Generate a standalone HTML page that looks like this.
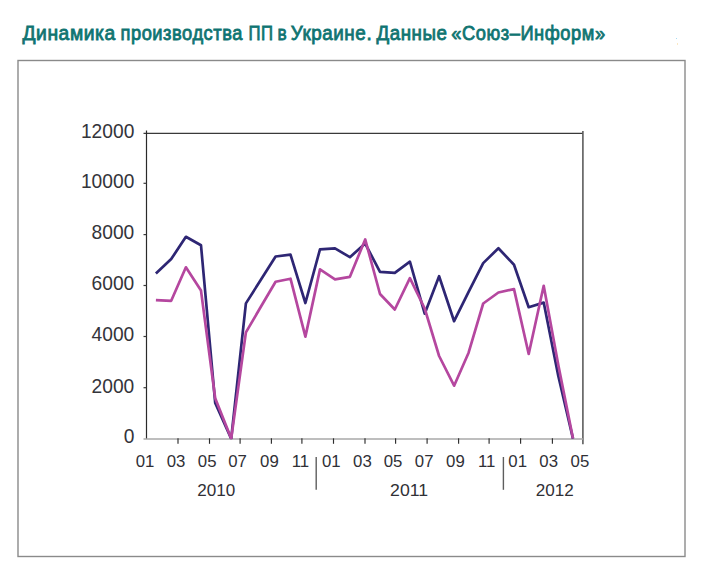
<!DOCTYPE html>
<html><head><meta charset="utf-8"><title>Динамика производства ПП в Украине</title>
<style>
html,body{margin:0;padding:0;background:#fff;}
body{width:701px;height:580px;overflow:hidden;}
svg{display:block;}
text{font-family:"Liberation Sans",Arial,sans-serif;}
</style></head><body>
<svg width="701" height="580" viewBox="0 0 701 580">
<g font-size="19.6" fill="#0f7471" stroke="#0f7471" stroke-width="0.8" letter-spacing="0.6"><text x="22.40" y="39.9" textLength="93.50" lengthAdjust="spacingAndGlyphs">Динамика</text><text x="120.50" y="39.9" textLength="122.50" lengthAdjust="spacingAndGlyphs">производства</text><text x="248.40" y="39.9" textLength="25.00" lengthAdjust="spacingAndGlyphs">ПП</text><text x="277.40" y="39.9" textLength="9.70" lengthAdjust="spacingAndGlyphs">в</text><text x="290.70" y="39.9" textLength="81.50" lengthAdjust="spacingAndGlyphs">Украине.</text><text x="376.40" y="39.9" textLength="71.10" lengthAdjust="spacingAndGlyphs">Данные</text><text x="451.20" y="39.9" textLength="154.50" lengthAdjust="spacingAndGlyphs">«Союз–Информ»</text></g>
<rect x="18" y="60.5" width="667" height="496" fill="none" stroke="#8a8a8a" stroke-width="1.4"/>
<line x1="143.5" y1="133.3" x2="583" y2="133.3" stroke="#3a3a3a" stroke-width="1.2"/>
<line x1="146.5" y1="130.5" x2="146.5" y2="439" stroke="#2a2a2a" stroke-width="1.2"/>
<line x1="582.9" y1="131" x2="582.9" y2="444.3" stroke="#5c5c5c" stroke-width="1.6"/>
<line x1="143.5" y1="183.3" x2="146.5" y2="183.3" stroke="#3a3a3a" stroke-width="1.2"/>
<line x1="143.5" y1="234.6" x2="146.5" y2="234.6" stroke="#3a3a3a" stroke-width="1.2"/>
<line x1="143.5" y1="285.5" x2="146.5" y2="285.5" stroke="#3a3a3a" stroke-width="1.2"/>
<line x1="143.5" y1="336.5" x2="146.5" y2="336.5" stroke="#3a3a3a" stroke-width="1.2"/>
<line x1="143.5" y1="387.7" x2="146.5" y2="387.7" stroke="#3a3a3a" stroke-width="1.2"/>
<line x1="143.5" y1="438.9" x2="583" y2="438.9" stroke="#a8a8a8" stroke-width="1.5"/>
<line x1="178.0" y1="438.3" x2="178.0" y2="443.8" stroke="#2e2e2e" stroke-width="1.15"/>
<line x1="209.5" y1="438.3" x2="209.5" y2="443.8" stroke="#2e2e2e" stroke-width="1.15"/>
<line x1="240.1" y1="438.3" x2="240.1" y2="443.8" stroke="#2e2e2e" stroke-width="1.15"/>
<line x1="271.4" y1="438.3" x2="271.4" y2="443.8" stroke="#2e2e2e" stroke-width="1.15"/>
<line x1="301.9" y1="438.3" x2="301.9" y2="443.8" stroke="#2e2e2e" stroke-width="1.15"/>
<line x1="333.5" y1="438.3" x2="333.5" y2="443.8" stroke="#2e2e2e" stroke-width="1.15"/>
<line x1="365.0" y1="438.3" x2="365.0" y2="443.8" stroke="#2e2e2e" stroke-width="1.15"/>
<line x1="395.6" y1="438.3" x2="395.6" y2="443.8" stroke="#2e2e2e" stroke-width="1.15"/>
<line x1="427.1" y1="438.3" x2="427.1" y2="443.8" stroke="#2e2e2e" stroke-width="1.15"/>
<line x1="458.6" y1="438.3" x2="458.6" y2="443.8" stroke="#2e2e2e" stroke-width="1.15"/>
<line x1="489.1" y1="438.3" x2="489.1" y2="443.8" stroke="#2e2e2e" stroke-width="1.15"/>
<line x1="520.6" y1="438.3" x2="520.6" y2="443.8" stroke="#2e2e2e" stroke-width="1.15"/>
<line x1="552.4" y1="438.3" x2="552.4" y2="443.8" stroke="#2e2e2e" stroke-width="1.15"/>
<text transform="translate(134.3,138.0) scale(1,1.08)" font-size="19.2" fill="#34343a" text-anchor="end">12000</text>
<text transform="translate(134.3,188.1) scale(1,1.08)" font-size="19.2" fill="#34343a" text-anchor="end">10000</text>
<text transform="translate(134.3,239.4) scale(1,1.08)" font-size="19.2" fill="#34343a" text-anchor="end">8000</text>
<text transform="translate(134.3,290.3) scale(1,1.08)" font-size="19.2" fill="#34343a" text-anchor="end">6000</text>
<text transform="translate(134.3,341.3) scale(1,1.08)" font-size="19.2" fill="#34343a" text-anchor="end">4000</text>
<text transform="translate(134.3,392.5) scale(1,1.08)" font-size="19.2" fill="#34343a" text-anchor="end">2000</text>
<text transform="translate(134.3,442.8) scale(1,1.08)" font-size="19.2" fill="#34343a" text-anchor="end">0</text>
<text x="145.0" y="466.6" font-size="16.8" fill="#303036" text-anchor="middle">01</text>
<text x="176.0" y="466.6" font-size="16.8" fill="#303036" text-anchor="middle">03</text>
<text x="207.2" y="466.6" font-size="16.8" fill="#303036" text-anchor="middle">05</text>
<text x="237.6" y="466.6" font-size="16.8" fill="#303036" text-anchor="middle">07</text>
<text x="269.4" y="466.6" font-size="16.8" fill="#303036" text-anchor="middle">09</text>
<text x="300.5" y="466.6" font-size="16.8" fill="#303036" text-anchor="middle">11</text>
<text x="331.3" y="466.6" font-size="16.8" fill="#303036" text-anchor="middle">01</text>
<text x="362.4" y="466.6" font-size="16.8" fill="#303036" text-anchor="middle">03</text>
<text x="393.1" y="466.6" font-size="16.8" fill="#303036" text-anchor="middle">05</text>
<text x="424.2" y="466.6" font-size="16.8" fill="#303036" text-anchor="middle">07</text>
<text x="455.4" y="466.6" font-size="16.8" fill="#303036" text-anchor="middle">09</text>
<text x="486.7" y="466.6" font-size="16.8" fill="#303036" text-anchor="middle">11</text>
<text x="517.7" y="466.6" font-size="16.8" fill="#303036" text-anchor="middle">01</text>
<text x="548.7" y="466.6" font-size="16.8" fill="#303036" text-anchor="middle">03</text>
<text x="579.9" y="466.6" font-size="16.8" fill="#303036" text-anchor="middle">05</text>
<text x="216.2" y="495.7" font-size="16.5" textLength="38" lengthAdjust="spacingAndGlyphs" fill="#303036" text-anchor="middle">2010</text>
<text x="409.1" y="495.7" font-size="16.5" textLength="38" lengthAdjust="spacingAndGlyphs" fill="#303036" text-anchor="middle">2011</text>
<text x="554.8" y="495.7" font-size="16.5" textLength="38" lengthAdjust="spacingAndGlyphs" fill="#303036" text-anchor="middle">2012</text>
<line x1="316.2" y1="457" x2="316.2" y2="489.8" stroke="#5e5e5e" stroke-width="1.4"/>
<line x1="503.4" y1="457" x2="503.4" y2="489.8" stroke="#5e5e5e" stroke-width="1.4"/>
<defs><clipPath id="pc"><rect x="140" y="120" width="450" height="319.2"/></clipPath></defs><g clip-path="url(#pc)"><polyline points="155.9,273.5 171.2,259.1 185.9,236.8 201.0,245.3 215.2,403.0 231.2,438.6 245.9,303.4 260.7,280.0 275.6,256.5 290.5,254.7 305.4,303.0 320.0,249.3 335.0,248.3 349.9,257.2 365.2,243.6 380.0,271.9 394.8,272.9 409.9,261.7 424.7,313.7 439.1,276.2 454.1,321.2 468.6,291.9 483.2,263.1 498.4,248.3 514.0,264.7 528.7,307.2 543.7,302.6 558.3,376.0 573.0,438.6" fill="none" stroke="#2e2674" stroke-width="2.7" stroke-linejoin="round"/>
<polyline points="155.9,300.1 171.2,300.8 185.9,267.3 201.0,290.6 215.2,398.2 231.2,438.6 245.9,332.4 260.7,307.0 275.6,281.7 290.5,278.7 305.4,336.6 320.0,269.4 335.0,279.3 349.9,276.8 365.2,239.4 380.0,294.0 394.8,309.5 409.9,278.2 424.7,308.5 439.1,356.0 454.1,385.7 468.6,352.7 483.2,303.5 498.4,292.5 514.0,289.1 528.7,354.0 543.7,285.8 558.3,365.0 573.0,438.6" fill="none" stroke="#b5479f" stroke-width="2.7" stroke-linejoin="round"/>
</g><rect x="676" y="38" width="1" height="1" fill="#a8dcf4"/><rect x="677" y="43" width="1" height="2" fill="#fbe8c4"/>
</svg>
</body></html>
